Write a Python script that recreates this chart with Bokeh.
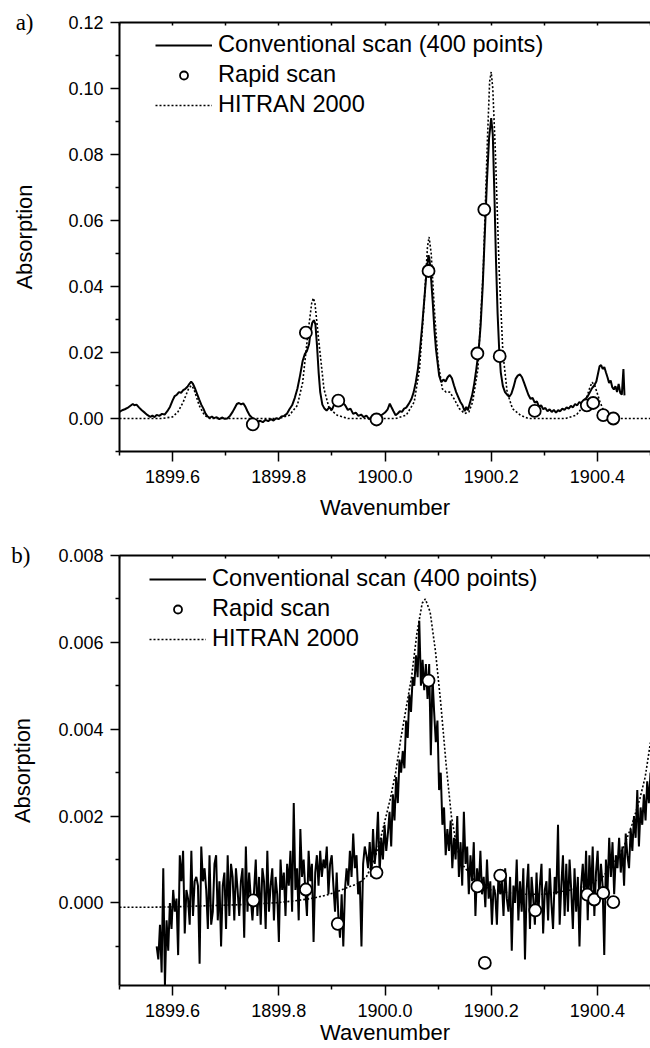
import numpy as np
from bokeh.plotting import figure
from bokeh.models import (FixedTicker, LinearAxis, Legend, LegendItem,
                          PrintfTickFormatter, Range1d)
from bokeh.layouts import column
from bokeh.embed import file_html
from bokeh.resources import INLINE

# ---------------- data: panel a ----------------
conv_a_x = [
    1899.500, 1899.505, 1899.510, 1899.515, 1899.520, 1899.525, 1899.528, 1899.532, 1899.537, 1899.542,
    1899.548, 1899.553, 1899.558, 1899.562, 1899.566, 1899.570, 1899.575, 1899.580, 1899.585, 1899.590,
    1899.595, 1899.600, 1899.604, 1899.608, 1899.612, 1899.616, 1899.620, 1899.624, 1899.628, 1899.632,
    1899.635, 1899.638, 1899.642, 1899.646, 1899.650, 1899.654, 1899.658, 1899.662, 1899.666, 1899.670,
    1899.674, 1899.678, 1899.683, 1899.688, 1899.693, 1899.698, 1899.703, 1899.708, 1899.713, 1899.717,
    1899.721, 1899.725, 1899.729, 1899.733, 1899.737, 1899.741, 1899.745, 1899.750, 1899.755, 1899.760,
    1899.765, 1899.770, 1899.775, 1899.780, 1899.785, 1899.790, 1899.795, 1899.800, 1899.805, 1899.810,
    1899.815, 1899.820, 1899.825, 1899.830, 1899.835, 1899.840, 1899.845, 1899.849, 1899.853, 1899.857,
    1899.860, 1899.863, 1899.866, 1899.869, 1899.872, 1899.875, 1899.878, 1899.882, 1899.886, 1899.890,
    1899.895, 1899.900, 1899.905, 1899.910, 1899.915, 1899.920, 1899.925, 1899.930, 1899.935, 1899.940,
    1899.945, 1899.950, 1899.955, 1899.960, 1899.965, 1899.970, 1899.975, 1899.980, 1899.985, 1899.990,
    1899.995, 1900.000, 1900.005, 1900.009, 1900.012, 1900.016, 1900.020, 1900.024, 1900.028, 1900.032,
    1900.036, 1900.040, 1900.045, 1900.050, 1900.054, 1900.058, 1900.062, 1900.066, 1900.070, 1900.074,
    1900.077, 1900.080, 1900.082, 1900.084, 1900.087, 1900.090, 1900.093, 1900.096, 1900.099, 1900.102,
    1900.106, 1900.110, 1900.114, 1900.118, 1900.122, 1900.126, 1900.130, 1900.134, 1900.138, 1900.142,
    1900.146, 1900.150, 1900.153, 1900.156, 1900.160, 1900.164, 1900.168, 1900.172, 1900.176, 1900.180,
    1900.184, 1900.188, 1900.192, 1900.196, 1900.200, 1900.203, 1900.206, 1900.209, 1900.212, 1900.215,
    1900.218, 1900.222, 1900.226, 1900.230, 1900.234, 1900.238, 1900.242, 1900.246, 1900.250, 1900.254,
    1900.258, 1900.262, 1900.266, 1900.270, 1900.274, 1900.278, 1900.282, 1900.286, 1900.290, 1900.294,
    1900.298, 1900.302, 1900.306, 1900.310, 1900.314, 1900.318, 1900.322, 1900.326, 1900.330, 1900.334,
    1900.338, 1900.342, 1900.346, 1900.350, 1900.354, 1900.358, 1900.362, 1900.366, 1900.370, 1900.374,
    1900.378, 1900.382, 1900.386, 1900.390, 1900.394, 1900.398, 1900.401, 1900.404, 1900.407, 1900.410,
    1900.413, 1900.416, 1900.419, 1900.422, 1900.425, 1900.428, 1900.431, 1900.434, 1900.437, 1900.440,
    1900.443, 1900.446, 1900.449, 1900.451,
]
conv_a_y = [
    0.0020, 0.0025, 0.0028, 0.0032, 0.0038, 0.0044, 0.0040, 0.0042, 0.0033, 0.0025,
    0.0017, 0.0010, 0.0005, 0.0009, 0.0004, 0.0011, 0.0008, 0.0014, 0.0012, 0.0022,
    0.0035, 0.0055, 0.0068, 0.0072, 0.0080, 0.0078, 0.0086, 0.0090, 0.0096, 0.0106,
    0.0112, 0.0106, 0.0092, 0.0075, 0.0058, 0.0042, 0.0030, 0.0015, 0.0006, 0.0002,
    0.0006, 0.0001, 0.0004, -0.0002, 0.0003, -0.0001, 0.0000, 0.0008, 0.0020, 0.0032,
    0.0044, 0.0047, 0.0043, 0.0046, 0.0036, 0.0022, 0.0010, 0.0002, -0.0005, -0.0010,
    -0.0007, -0.0011, -0.0004, -0.0008, -0.0002, -0.0006, 0.0001, -0.0002, 0.0006, 0.0008,
    0.0014, 0.0028, 0.0040, 0.0062, 0.0090, 0.0130, 0.0175, 0.0195, 0.0205, 0.0225,
    0.0265, 0.0290, 0.0298, 0.0285, 0.0220, 0.0140, 0.0080, 0.0042, 0.0030, 0.0024,
    0.0034, 0.0026, 0.0045, 0.0058, 0.0055, 0.0048, 0.0040, 0.0026, 0.0030, 0.0014,
    0.0018, 0.0008, 0.0012, 0.0004, 0.0009, -0.0002, 0.0003, -0.0004, -0.0001, 0.0006,
    0.0012, 0.0018, 0.0028, 0.0045, 0.0035, 0.0022, 0.0010, 0.0015, 0.0022, 0.0020,
    0.0030, 0.0033, 0.0045, 0.0060, 0.0080, 0.0110, 0.0150, 0.0210, 0.0280, 0.0360,
    0.0420, 0.0470, 0.0495, 0.0480, 0.0420, 0.0350, 0.0270, 0.0210, 0.0170, 0.0130,
    0.0110, 0.0118, 0.0112, 0.0125, 0.0132, 0.0122, 0.0100, 0.0080, 0.0065, 0.0050,
    0.0040, 0.0022, 0.0035, 0.0025, 0.0048, 0.0070, 0.0105, 0.0150, 0.0200, 0.0280,
    0.0400, 0.0560, 0.0720, 0.0850, 0.0910, 0.0860, 0.0680, 0.0480, 0.0320, 0.0210,
    0.0140, 0.0098, 0.0080, 0.0072, 0.0066, 0.0075, 0.0095, 0.0120, 0.0130, 0.0134,
    0.0125, 0.0108, 0.0090, 0.0072, 0.0060, 0.0062, 0.0048, 0.0052, 0.0036, 0.0040,
    0.0028, 0.0032, 0.0022, 0.0028, 0.0020, 0.0026, 0.0018, 0.0025, 0.0022, 0.0030,
    0.0026, 0.0034, 0.0030, 0.0038, 0.0034, 0.0044, 0.0040, 0.0050, 0.0046, 0.0056,
    0.0060, 0.0068, 0.0080, 0.0092, 0.0100, 0.0112, 0.0135, 0.0158, 0.0162, 0.0150,
    0.0156, 0.0140, 0.0125, 0.0108, 0.0115, 0.0095, 0.0088, 0.0098, 0.0080, 0.0105,
    0.0078, 0.0072, 0.0150, 0.0070,
]
hitran_a_x = [
    1899.500, 1899.580, 1899.600, 1899.610, 1899.620, 1899.630, 1899.635, 1899.640, 1899.650, 1899.660,
    1899.670, 1899.800, 1899.820, 1899.835, 1899.845, 1899.855, 1899.862, 1899.865, 1899.868, 1899.875,
    1899.885, 1899.895, 1899.910, 1899.930, 1900.020, 1900.040, 1900.055, 1900.065, 1900.075, 1900.080,
    1900.083, 1900.087, 1900.093, 1900.100, 1900.108, 1900.115, 1900.122, 1900.130, 1900.140, 1900.150,
    1900.158, 1900.165, 1900.175, 1900.185, 1900.193, 1900.197, 1900.200, 1900.203, 1900.208, 1900.215,
    1900.222, 1900.230, 1900.240, 1900.255, 1900.270, 1900.340, 1900.360, 1900.375, 1900.385, 1900.390,
    1900.395, 1900.405, 1900.415, 1900.430, 1900.500,
]
hitran_a_y = [
    0.0, 0.0, 0.0005, 0.002, 0.005, 0.009, 0.010, 0.009, 0.004, 0.001,
    0.0, 0.0, 0.001, 0.004, 0.011, 0.026, 0.035, 0.0365, 0.035, 0.024,
    0.009, 0.003, 0.001, 0.0, 0.0, 0.001, 0.005, 0.015, 0.038, 0.052,
    0.055, 0.050, 0.033, 0.017, 0.009, 0.008, 0.008, 0.006, 0.003, 0.0015,
    0.002, 0.005, 0.015, 0.045, 0.085, 0.102, 0.105, 0.100, 0.080, 0.045,
    0.020, 0.008, 0.003, 0.001, 0.0, 0.0, 0.001, 0.004, 0.009, 0.011,
    0.010, 0.005, 0.001, 0.0, 0.0,
]
rapid_a_x = [1899.751, 1899.851, 1899.912, 1899.984, 1900.082, 1900.174, 1900.187,
             1900.216, 1900.282, 1900.380, 1900.392, 1900.411, 1900.430]
rapid_a_y = [-0.0018, 0.0260, 0.0054, -0.0003, 0.0447, 0.0197, 0.0633,
             0.0189, 0.0023, 0.0040, 0.0047, 0.0010, 0.0000]

# ---------------- data: panel b ----------------
conv_b_start, conv_b_end = 1899.57, 1900.50
conv_b_y = [
    -0.0010, -0.0013, -0.0005, -0.0016, 0.0008, -0.0019, -0.0004, -0.0011, 0.0000, -0.0006,
    0.0003, -0.0002, 0.0001, -0.0012, 0.0011, 0.0005, 0.0012, -0.0007, 0.0003, 0.0001,
    -0.0005, 0.0012, -0.0003, 0.0005, 0.0006, 0.0004, -0.0014, 0.0013, 0.0005, 0.0008,
    0.0003, -0.0006, 0.0011, -0.0005, -0.0002, 0.0009, 0.0011, -0.0004, 0.0005, -0.0010,
    0.0004, 0.0007, -0.0006, 0.0011, -0.0003, 0.0009, 0.0006, -0.0004, 0.0008, 0.0003,
    -0.0003, 0.0005, 0.0008, -0.0008, 0.0013, -0.0002, 0.0007, 0.0001, -0.0004, 0.0003,
    0.0010, -0.0003, 0.0006, -0.0005, 0.0008, 0.0005, -0.0006, 0.0012, -0.0002, 0.0004,
    0.0008, -0.0004, 0.0006, 0.0002, -0.0009, 0.0010, 0.0003, 0.0007, -0.0003, 0.0009,
    0.0004, 0.0012, -0.0002, 0.0023, 0.0003, 0.0008, -0.0004, 0.0017, 0.0006, 0.0010,
    0.0003, -0.0003, 0.0012, 0.0005, 0.0009, -0.0009, 0.0007, 0.0011, 0.0004, 0.0012,
    0.0006, 0.0010, 0.0008, 0.0013, 0.0002, 0.0009, 0.0011, 0.0004, -0.0002, 0.0007,
    -0.0003, -0.0008, 0.0002, -0.0010, 0.0003, 0.0008, 0.0004, 0.0012, 0.0006, 0.0016,
    0.0008, 0.0011, 0.0002, 0.0005, -0.0010, 0.0009, 0.0013, 0.0011, 0.0008, 0.0014,
    0.0006, 0.0017, 0.0009, 0.0013, 0.0021, 0.0007, 0.0015, 0.0010, 0.0018, 0.0012,
    0.0016, 0.0021, 0.0013, 0.0025, 0.0019, 0.0029, 0.0023, 0.0033, 0.0030, 0.0035,
    0.0031, 0.0042, 0.0038, 0.0048, 0.0044, 0.0052, 0.0050, 0.0057, 0.0052, 0.0065,
    0.0050, 0.0056, 0.0049, 0.0055, 0.0047, 0.0055, 0.0034, 0.0052, 0.0044, 0.0037,
    0.0042, 0.0026, 0.0030, 0.0018, 0.0022, 0.0011, 0.0017, 0.0012, 0.0019, 0.0008,
    0.0015, 0.0010, 0.0020, 0.0006, 0.0014, 0.0004, 0.0021, 0.0009, 0.0013, 0.0002,
    0.0011, 0.0005, 0.0014, -0.0003, 0.0008, 0.0003, 0.0012, 0.0002, 0.0006, -0.0001,
    0.0010, 0.0001, 0.0005, -0.0005, 0.0004, 0.0002, -0.0005, 0.0007, 0.0002, 0.0005,
    -0.0003, 0.0008, 0.0001, -0.0002, 0.0006, -0.0011, 0.0004, 0.0000, 0.0010, -0.0004,
    0.0005, -0.0002, 0.0008, -0.0013, 0.0003, 0.0009, -0.0006, 0.0006, 0.0001, -0.0005,
    0.0007, -0.0003, 0.0004, 0.0009, -0.0007, 0.0003, 0.0005, -0.0004, 0.0008, 0.0000,
    -0.0006, 0.0006, 0.0002, 0.0018, -0.0005, 0.0004, 0.0011, -0.0003, 0.0009, -0.0002,
    0.0010, 0.0003, -0.0006, 0.0008, -0.0002, 0.0006, -0.0010, 0.0004, 0.0009, 0.0001,
    0.0012, -0.0004, 0.0011, 0.0002, 0.0013, -0.0003, 0.0007, 0.0012, 0.0001, 0.0009,
    0.0004, -0.0012, 0.0010, 0.0003, 0.0015, 0.0006, 0.0014, 0.0002, 0.0011, 0.0008,
    0.0015, 0.0007, 0.0013, 0.0004, 0.0016, 0.0011, 0.0008, 0.0017, 0.0012, 0.0020,
    0.0015, 0.0026, 0.0013, 0.0022, 0.0018, 0.0025, 0.0019, 0.0028, 0.0023, 0.0030,
]
conv_b_x = list(np.linspace(conv_b_start, conv_b_end, len(conv_b_y)))

hitran_b_x = [
    1899.50, 1899.55, 1899.60, 1899.65, 1899.70, 1899.75, 1899.80, 1899.83, 1899.86, 1899.89,
    1899.91, 1899.93, 1899.95, 1899.965, 1899.98, 1899.99, 1900.00, 1900.01, 1900.02, 1900.03,
    1900.04, 1900.05, 1900.06, 1900.07, 1900.076, 1900.085, 1900.095, 1900.105, 1900.115, 1900.125,
    1900.135, 1900.145, 1900.17, 1900.20, 1900.25, 1900.30, 1900.35, 1900.38, 1900.41, 1900.43,
    1900.45, 1900.465, 1900.48, 1900.49, 1900.50,
]
hitran_b_y = [
    -0.00010, -0.00010, -0.00009, -0.00007, -0.00005, -0.00003, 0.00001, 0.00005, 0.00010, 0.00018,
    0.00026, 0.00036, 0.00045, 0.00060, 0.00100, 0.00140, 0.00190, 0.00240, 0.00300, 0.00380,
    0.00450, 0.00520, 0.00620, 0.00690, 0.00700, 0.00670, 0.00580, 0.00460, 0.00320, 0.00200,
    0.00130, 0.00090, 0.00050, 0.00030, 0.00020, 0.00020, 0.00030, 0.00040, 0.00060, 0.00090,
    0.00130, 0.00180, 0.00240, 0.00290, 0.00370,
]
rapid_b_x = [1899.752, 1899.851, 1899.911, 1899.984, 1900.082, 1900.174, 1900.188,
             1900.217, 1900.283, 1900.381, 1900.394, 1900.411, 1900.430]
rapid_b_y = [0.00006, 0.00031, -0.00048, 0.00070, 0.00512, 0.00038, -0.00138,
             0.00063, -0.00017, 0.00019, 0.00008, 0.00023, 0.00002]

x_ticks = [1899.6, 1899.8, 1900.0, 1900.2, 1900.4]
x_minor = [1899.5, 1899.7, 1899.9, 1900.1, 1900.3, 1900.5]
ya_ticks = [0.0, 0.02, 0.04, 0.06, 0.08, 0.10, 0.12]
ya_minor = [-0.01, 0.01, 0.03, 0.05, 0.07, 0.09, 0.11]
yb_ticks = [0.0, 0.002, 0.004, 0.006, 0.008]
yb_minor = [-0.001, 0.001, 0.003, 0.005, 0.007]

legend_labels = ["Conventional scan (400 points)", "Rapid scan", "HITRAN 2000"]
x_title = "Wavenumber"
y_title = "Absorption"

SANS = "Liberation Sans"
SERIF = "Liberation Serif"


def make_panel(tag, height, top, bottom, y_range, yt, ym, yfmt,
               cx, cy, hx, hy, rx, ry, legend_dx, tag_standoff, title_standoff,
               x_title_standoff):
    p = figure(width=650, height=height, output_backend="svg", toolbar_location=None,
               x_range=Range1d(1899.5, 1900.5), y_range=Range1d(*y_range),
               x_axis_type=None, y_axis_type=None,
               min_border_left=119, min_border_right=0,
               min_border_top=top, min_border_bottom=bottom,
               outline_line_color=None, background_fill_color="white",
               border_fill_color="white")

    xb = LinearAxis(ticker=FixedTicker(ticks=x_ticks, minor_ticks=x_minor),
                    formatter=PrintfTickFormatter(format="%.1f"),
                    axis_label=x_title)
    xa = LinearAxis(ticker=FixedTicker(ticks=[], minor_ticks=x_ticks + x_minor))
    yl = LinearAxis(ticker=FixedTicker(ticks=yt, minor_ticks=ym),
                    formatter=PrintfTickFormatter(format=yfmt))
    for ax in (xb, xa, yl):
        ax.axis_line_width = 2
        ax.axis_line_color = "black"
        ax.major_tick_line_width = 1.5
        ax.minor_tick_line_width = 1.5
        ax.major_tick_line_color = "black"
        ax.minor_tick_line_color = "black"
        ax.major_tick_in = 0
        ax.minor_tick_in = 0
        ax.major_label_text_font = SANS
        ax.major_label_text_font_size = "18px"
        ax.major_label_text_color = "black"
    xb.major_tick_out = 10
    xb.minor_tick_out = 4
    xb.major_label_standoff = 8
    xb.axis_label_standoff = x_title_standoff
    xb.axis_label_text_font = SANS
    xb.axis_label_text_font_size = "22px"
    xb.axis_label_text_font_style = "normal"
    xb.axis_label_text_color = "black"
    yl.major_tick_out = 9
    yl.minor_tick_out = 4
    yl.major_label_standoff = 7
    xa.major_tick_out = 0
    xa.minor_tick_out = 0
    xa.minor_tick_in = 3
    p.add_layout(xb, "below")
    p.add_layout(xa, "above")
    p.add_layout(yl, "left")

    # outer, invisible left axis carrying the panel tag and the y title
    top_val = y_range[1]
    yo = LinearAxis(ticker=FixedTicker(ticks=[top_val], minor_ticks=[]),
                    major_label_overrides={top_val: tag},
                    axis_line_color=None, major_tick_line_color=None,
                    minor_tick_line_color=None, major_tick_out=0, major_tick_in=0,
                    minor_tick_out=0, minor_tick_in=0,
                    major_label_standoff=tag_standoff,
                    major_label_text_font=SERIF, major_label_text_font_size="23px",
                    major_label_text_color="black",
                    axis_label=y_title, axis_label_standoff=title_standoff,
                    axis_label_text_font=SANS, axis_label_text_font_size="22px",
                    axis_label_text_font_style="normal", axis_label_text_color="black")
    p.add_layout(yo, "left")

    r_h = p.line(hx, hy, line_color="black", line_width=1.6, line_dash="2 2")
    r_c = p.line(cx, cy, line_color="black", line_width=2)
    r_r = p.scatter(rx, ry, size=12, marker="circle", fill_color="white",
                    line_color="black", line_width=1.8)

    legend = Legend(items=[LegendItem(label=legend_labels[0], renderers=[r_c]),
                           LegendItem(label=legend_labels[1], renderers=[r_r]),
                           LegendItem(label=legend_labels[2], renderers=[r_h])],
                    location=(legend_dx, 429 - 10 - 86),
                    glyph_width=57, glyph_height=20, label_height=20,
                    label_standoff=6, spacing=3, padding=0, margin=0,
                    label_text_font=SANS, label_text_font_size="23.6px",
                    label_text_color="black",
                    border_line_color=None, background_fill_alpha=0)
    p.add_layout(legend)
    return p


pa = make_panel("a)", 523, 22, 72, (-0.01, 0.12), ya_ticks, ya_minor, "%.2f",
                conv_a_x, conv_a_y, hitran_a_x, hitran_a_y, rapid_a_x, rapid_a_y,
                36, 32, -24, 9)
pb = make_panel("b)", 525, 32, 63, (-0.0019, 0.008), yb_ticks, yb_minor, "%.3f",
                conv_b_x, conv_b_y, hitran_b_x, hitran_b_y, rapid_b_x, rapid_b_y,
                30, 25, -27, 0)

layout = column(pa, pb, spacing=0)
open("out.html", "w").write(file_html(layout, INLINE))
